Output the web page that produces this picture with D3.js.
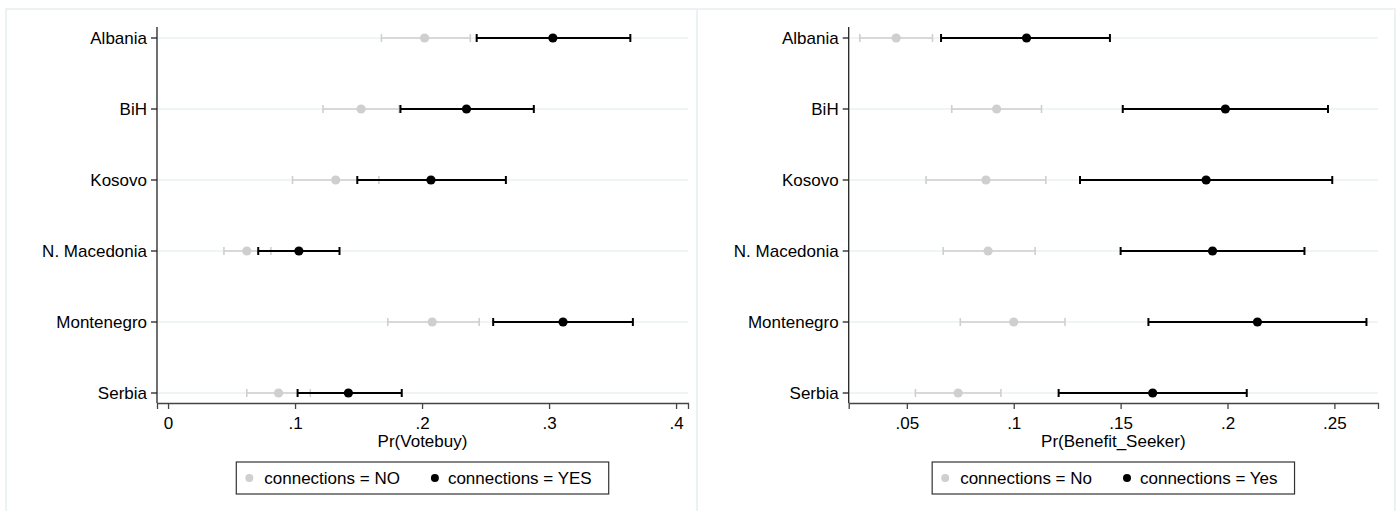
<!DOCTYPE html>
<html>
<head>
<meta charset="utf-8">
<script src="https://cdn.jsdelivr.net/npm/d3@7"></script>
<style>
  body { margin: 0; background: #fff; }
  svg text { font-family: "Liberation Sans", Arial, sans-serif; fill: #000; }
</style>
</head>
<body>
<svg id="chart" width="1399" height="511"></svg>
<script>
// rows, top to bottom
var countries = ["Albania", "BiH", "Kosovo", "N. Macedonia", "Montenegro", "Serbia"];

// Pr(Votebuy): estimate, lower and upper CI per country
var voteNoEst = [0.202, 0.152, 0.132, 0.062, 0.208, 0.087];
var voteNoLo  = [0.168, 0.122, 0.098, 0.044, 0.173, 0.062];
var voteNoHi  = [0.238, 0.182, 0.166, 0.081, 0.245, 0.112];
var voteYesEst = [0.303, 0.235, 0.207, 0.103, 0.311, 0.142];
var voteYesLo  = [0.243, 0.183, 0.149, 0.071, 0.256, 0.102];
var voteYesHi  = [0.364, 0.288, 0.266, 0.135, 0.366, 0.184];

// Pr(Benefit_Seeker)
var benNoEst = [0.045, 0.092, 0.087, 0.088, 0.100, 0.074];
var benNoLo  = [0.028, 0.071, 0.059, 0.067, 0.075, 0.054];
var benNoHi  = [0.062, 0.113, 0.115, 0.110, 0.124, 0.094];
var benYesEst = [0.106, 0.199, 0.190, 0.193, 0.214, 0.165];
var benYesLo  = [0.066, 0.151, 0.131, 0.150, 0.163, 0.121];
var benYesHi  = [0.145, 0.247, 0.249, 0.236, 0.265, 0.209];

var voteTicks = [0, 0.1, 0.2, 0.3, 0.4];
var benTicks = [0.05, 0.1, 0.15, 0.2, 0.25];

var GRAY = "#cfcfcf";
var BLACK = "#000";

var svg = d3.select("#chart");

/* faint outer frame of the two Stata graphs */
svg.append("rect").attr("x", 6).attr("y", 9).attr("width", 1389).attr("height", 520)
    .attr("fill", "none").attr("stroke", "#e6eef1").attr("stroke-width", 1.5);
svg.append("line").attr("x1", 697).attr("x2", 697).attr("y1", 9).attr("y2", 511)
    .attr("stroke", "#e6eef1").attr("stroke-width", 1.5);

function fmt(d) {
    if (d === 0) return "0";
    return String(+d.toFixed(3)).replace(/^0/, "");
}

function rows(est, lo, hi) {
    return countries.map(function(c, i) { return {c: c, est: est[i], lo: lo[i], hi: hi[i]}; });
}

function panel(opt) {
    var g = svg.append("g");
    var x = d3.scaleLinear().domain(opt.domain).range([opt.left, opt.right]);
    var y = d3.scalePoint().domain(countries).range([38, 393]);
    var bottom = 403;

    // gridlines
    g.selectAll(".grid").data(countries).join("line")
        .attr("x1", opt.left).attr("x2", opt.right)
        .attr("y1", d => y(d)).attr("y2", d => y(d))
        .attr("stroke", "#eaf2f3").attr("stroke-width", 1.5);

    // y axis
    g.append("line").attr("x1", opt.left).attr("x2", opt.left).attr("y1", 27).attr("y2", bottom)
        .attr("stroke", "#222").attr("stroke-width", 1.3);
    g.selectAll(".ytick").data(countries).join("line")
        .attr("x1", opt.left - 6).attr("x2", opt.left)
        .attr("y1", d => y(d)).attr("y2", d => y(d))
        .attr("stroke", "#222").attr("stroke-width", 1.3);
    g.selectAll(".ylab").data(countries).join("text")
        .attr("x", opt.left - 10).attr("y", d => y(d) + 6)
        .attr("text-anchor", "end").style("font-size", "17px")
        .text(d => d);

    // x axis
    var xAxis = g.append("g").attr("transform", "translate(0," + bottom + ")")
        .call(d3.axisBottom(x).tickValues(opt.ticks).tickFormat(fmt).tickSize(6).tickPadding(8));
    xAxis.select(".domain").attr("stroke", "#444").attr("stroke-width", 1.3);
    xAxis.selectAll(".tick line").attr("stroke", "#444").attr("stroke-width", 1.3);
    xAxis.selectAll("text").style("font-size", "17px").attr("fill", "#000")
        .style("font-family", "Liberation Sans, Arial, sans-serif");

    g.append("text").attr("x", (opt.left + opt.right) / 2).attr("y", 447)
        .attr("text-anchor", "middle").style("font-size", "17px").text(opt.title);

    // error bars and markers, NO first then YES on top
    [[opt.no, GRAY, 1.6], [opt.yes, BLACK, 2]].forEach(function(s) {
        var data = s[0], col = s[1], w = s[2];
        var sg = g.append("g");
        sg.selectAll(".ci").data(data).join("line")
            .attr("x1", d => x(d.lo)).attr("x2", d => x(d.hi))
            .attr("y1", d => y(d.c)).attr("y2", d => y(d.c))
            .attr("stroke", col).attr("stroke-width", w);
        ["lo", "hi"].forEach(function(k) {
            sg.selectAll(".cap" + k).data(data).join("line")
                .attr("x1", d => x(d[k])).attr("x2", d => x(d[k]))
                .attr("y1", d => y(d.c) - 4).attr("y2", d => y(d.c) + 4)
                .attr("stroke", col).attr("stroke-width", w);
        });
        sg.selectAll("circle").data(data).join("circle")
            .attr("cx", d => x(d.est)).attr("cy", d => y(d.c))
            .attr("r", 4.6).attr("fill", col);
    });

    /* legend box, centered under the plot region */
    var lg = g.append("g");
    var t1 = lg.append("text").attr("y", 484).style("font-size", "17px").text(opt.labels[0]);
    var t2 = lg.append("text").attr("y", 484).style("font-size", "17px").text(opt.labels[1]);
    var w1 = t1.node().getComputedTextLength();
    var w2 = t2.node().getComputedTextLength();
    var boxW = 28 + w1 + 35 + 13 + w2 + 17;
    var x0 = (opt.left + opt.right) / 2 - boxW / 2;
    lg.insert("rect", "text").attr("x", x0).attr("y", 462).attr("width", boxW).attr("height", 32)
        .attr("fill", "#fff").attr("stroke", "#333").attr("stroke-width", 1.2);
    lg.append("circle").attr("cx", x0 + 13).attr("cy", 478).attr("r", 4).attr("fill", GRAY);
    t1.attr("x", x0 + 28);
    var m2 = x0 + 28 + w1 + 35;
    lg.append("circle").attr("cx", m2).attr("cy", 478).attr("r", 4).attr("fill", BLACK);
    t2.attr("x", m2 + 13);
}

panel({
    left: 157, right: 688, domain: [-0.0087, 0.4094], ticks: voteTicks,
    title: "Pr(Votebuy)",
    no: rows(voteNoEst, voteNoLo, voteNoHi),
    yes: rows(voteYesEst, voteYesLo, voteYesHi),
    labels: ["connections = NO", "connections = YES"]
});

panel({
    left: 848.7, right: 1378, domain: [0.0228, 0.2704], ticks: benTicks,
    title: "Pr(Benefit_Seeker)",
    no: rows(benNoEst, benNoLo, benNoHi),
    yes: rows(benYesEst, benYesLo, benYesHi),
    labels: ["connections = No", "connections = Yes"]
});
</script>
</body>
</html>
